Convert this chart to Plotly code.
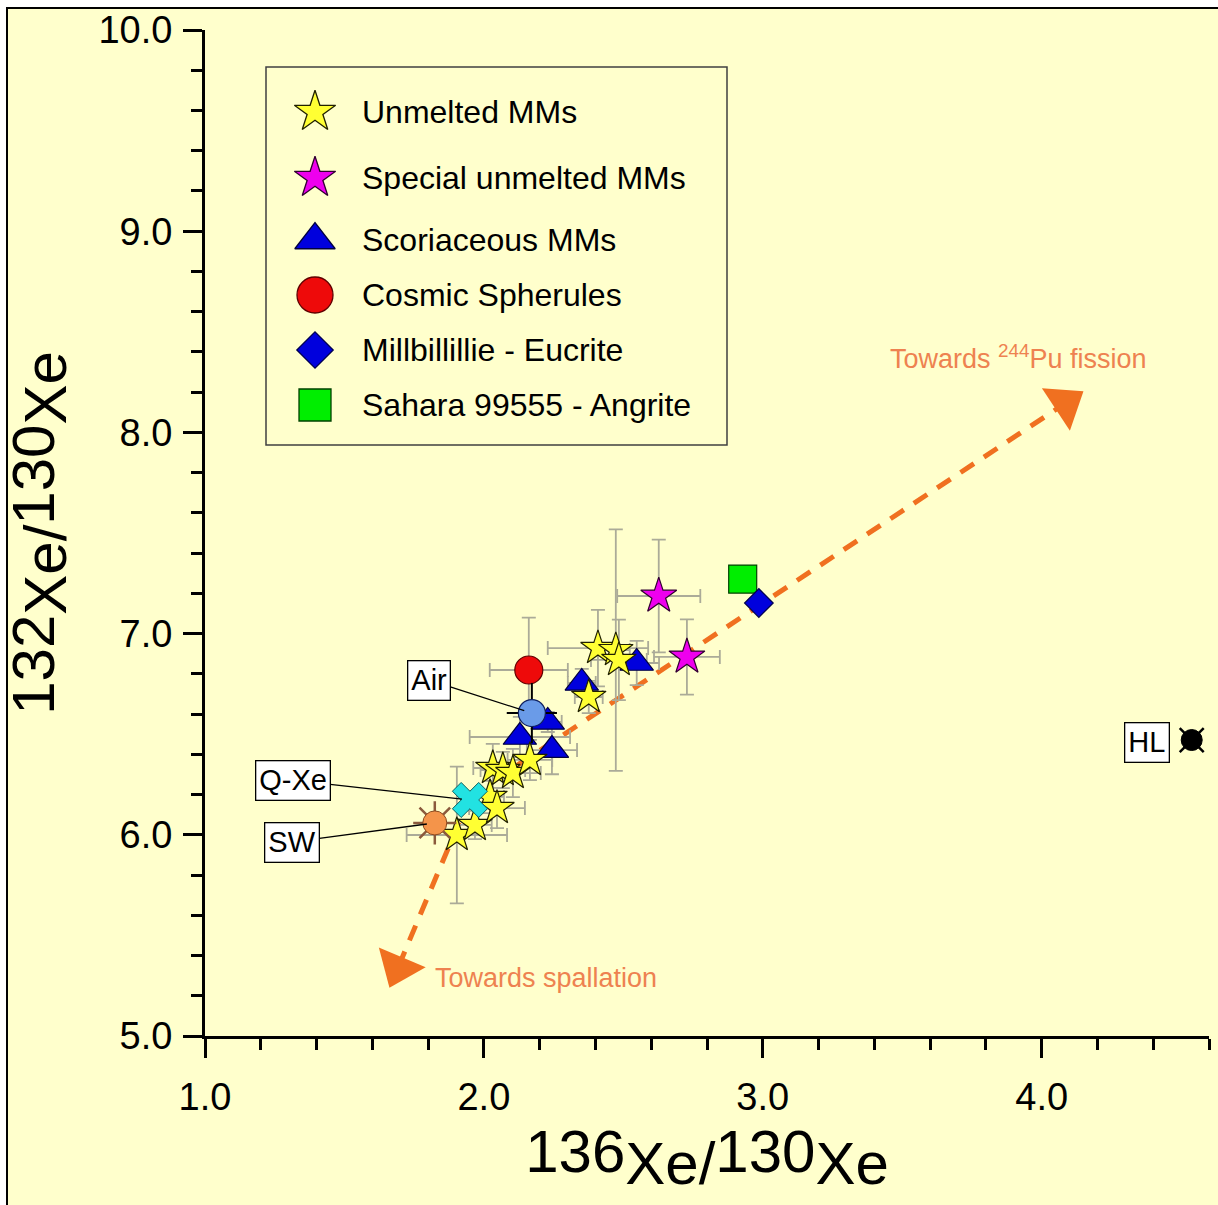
import plotly.graph_objects as go

# ---------------------------------------------------------------
# Xe isotope ratios (136Xe/130Xe, 132Xe/130Xe) with 1-sigma errors
# ---------------------------------------------------------------
unmelted_x = [1.903, 1.968, 2.022, 2.047, 2.032, 2.068, 2.104, 2.165, 2.376, 2.409, 2.473, 2.484]
unmelted_y = [5.999, 6.049, 6.188, 6.133, 6.332, 6.322, 6.307, 6.372, 6.685, 6.928, 6.918, 6.869]
unmelted_ex = [0.18, 0.06, 0.05, 0.10, 0.07, 0.08, 0.10, 0.08, 0.05, 0.18, 0.05, 0.10]
unmelted_ey = [0.34, 0.07, 0.08, 0.10, 0.12, 0.09, 0.12, 0.10, 0.08, 0.19, 0.60, 0.20]

special_x = [2.627, 2.728]
special_y = [7.187, 6.884]
special_ex = [0.149, 0.118]
special_ey = [0.28, 0.187]

scoriaceous_x = [2.129, 2.229, 2.244, 2.351, 2.548]
scoriaceous_y = [6.486, 6.561, 6.421, 6.755, 6.854]
scoriaceous_ex = [0.18, 0.05, 0.09, 0.05, 0.08]
scoriaceous_ey = [0.10, 0.05, 0.12, 0.07, 0.11]

cosmic_x = [2.161]
cosmic_y = [6.819]
cosmic_ex = [0.14]
cosmic_ey = [0.26]

millbillillie_x = [2.986]
millbillillie_y = [7.152]

sahara_x = [2.928]
sahara_y = [7.271]

# reference Xe components
component_names = ["Air", "Q-Xe", "SW", "HL"]
component_x = [2.172, 1.950, 1.824, 4.538]
component_y = [6.605, 6.173, 6.059, 6.471]
air_ex = [0.09]
air_ey = [0.15]

# mixing directions from the trapped component towards fission / spallation
trend_origin = (1.950, 6.190)
trend_fission_end = (4.084, 8.144)
trend_spallation_end = (1.692, 5.340)

legend_labels = ["Unmelted MMs", "Special unmelted MMs", "Scoriaceous MMs",
                 "Cosmic Spherules", "Millbillillie - Eucrite", "Sahara 99555 - Angrite"]

# ---------------------------------------------------------------
# styling / layout constants
# ---------------------------------------------------------------
FONT = "Arial, 'Liberation Sans', sans-serif"
BG = "#FFFFCC"
ORANGE = "#F07020"
TEXT_ORANGE = "#EE8250"
ERR_GREY = "#ABAB98"

W, H = 1218, 1205
M_L, M_R, M_T, M_B = 205, 9, 30, 169
X_RANGE = [1.0, 4.6]
Y_RANGE = [5.0, 10.0]
PLOT_W = W - M_L - M_R
PLOT_H = H - M_T - M_B
PX_PER_X = PLOT_W / (X_RANGE[1] - X_RANGE[0])
PX_PER_Y = PLOT_H / (Y_RANGE[1] - Y_RANGE[0])

STYLE = {
    "unmelted": dict(symbol="star", size=26, color="#FFFF33", line="#202000"),
    "special": dict(symbol="star", size=27, color="#EE00EE", line="#300030"),
    "scoriaceous": dict(symbol="triangle-up", size=29, color="#0000DD", line="#000040"),
    "cosmic": dict(symbol="circle", size=28, color="#EE0A0A", line="#600000"),
    "millbillillie": dict(symbol="diamond", size=22, color="#0000DD", line="#000050"),
    "sahara": dict(symbol="square", size=28, color="#00EE00", line="#004000"),
}
LEGEND_SIZES = [31, 31, 35, 36, 28, 32]
LEGEND_ORDER = ["unmelted", "special", "scoriaceous", "cosmic", "millbillillie", "sahara"]
ARROW_HEAD_SIZE = 44


def px_to_paper_x(px):
    return (px - M_L) / PLOT_W


def px_to_paper_y(py):
    return (H - M_B - py) / PLOT_H


def px_to_data_x(px):
    return X_RANGE[0] + (px - M_L) / PX_PER_X


def px_to_data_y(py):
    return Y_RANGE[0] + (H - M_B - py) / PX_PER_Y


fig = go.Figure()

# dashed trend lines, each ending in an arrow head that follows the line direction
for end in (trend_fission_end, trend_spallation_end):
    fig.add_trace(go.Scatter(
        x=[trend_origin[0], end[0]], y=[trend_origin[1], end[1]],
        mode="lines+markers", line=dict(color=ORANGE, width=5, dash="16px,12px"),
        marker=dict(symbol="triangle-up", size=[0, ARROW_HEAD_SIZE], color=ORANGE, opacity=1,
                    angleref="previous", line=dict(width=0)),
        hoverinfo="skip", showlegend=False, cliponaxis=False))


def error_trace(x, y, ex, ey, color=ERR_GREY, cap=7, thickness=1.8):
    return go.Scatter(
        x=x, y=y, mode="markers",
        marker=dict(size=1, color="rgba(0,0,0,0)"),
        error_x=dict(type="data", array=ex, color=color, thickness=thickness, width=cap),
        error_y=dict(type="data", array=ey, color=color, thickness=thickness, width=cap),
        hoverinfo="skip", showlegend=False, cliponaxis=False)


def marker_trace(x, y, style, name, size=None, line_w=1.2):
    return go.Scatter(
        x=x, y=y, mode="markers", name=name,
        marker=dict(symbol=style["symbol"], size=size or style["size"], color=style["color"],
                    line=dict(color=style["line"], width=line_w)),
        showlegend=False, cliponaxis=False)


# grey uncertainty bars behind all symbols
fig.add_trace(error_trace(scoriaceous_x, scoriaceous_y, scoriaceous_ex, scoriaceous_ey))
fig.add_trace(error_trace(unmelted_x, unmelted_y, unmelted_ex, unmelted_ey))
fig.add_trace(error_trace(special_x, special_y, special_ex, special_ey))
fig.add_trace(error_trace(cosmic_x, cosmic_y, cosmic_ex, cosmic_ey))

# sample groups
fig.add_trace(marker_trace(scoriaceous_x, scoriaceous_y, STYLE["scoriaceous"], legend_labels[2]))
fig.add_trace(marker_trace(unmelted_x, unmelted_y, STYLE["unmelted"], legend_labels[0]))
fig.add_trace(marker_trace(special_x, special_y, STYLE["special"], legend_labels[1]))
fig.add_trace(marker_trace(cosmic_x, cosmic_y, STYLE["cosmic"], legend_labels[3]))
fig.add_trace(marker_trace(sahara_x, sahara_y, STYLE["sahara"], legend_labels[5]))
fig.add_trace(marker_trace(millbillillie_x, millbillillie_y, STYLE["millbillillie"], legend_labels[4]))

# reference components
air_i, q_i, sw_i, hl_i = range(4)
# Air: black uncertainty bars + light blue disc
fig.add_trace(error_trace([component_x[air_i]], [component_y[air_i]], air_ex, air_ey,
                          color="black", cap=0, thickness=2))
fig.add_trace(go.Scatter(
    x=[component_x[air_i]], y=[component_y[air_i]], mode="markers",
    marker=dict(symbol="circle", size=27, color="#6A9BE8", line=dict(color="#102060", width=1.2)),
    hoverinfo="skip", showlegend=False, cliponaxis=False))
# Solar wind: rayed orange disc
fig.add_trace(go.Scatter(
    x=[component_x[sw_i]], y=[component_y[sw_i]], mode="markers",
    marker=dict(symbol="asterisk-open", size=36, color="#8B5A3C", line=dict(color="#8B5A3C", width=2.5)),
    hoverinfo="skip", showlegend=False, cliponaxis=False))
fig.add_trace(go.Scatter(
    x=[component_x[sw_i]], y=[component_y[sw_i]], mode="markers",
    marker=dict(symbol="circle", size=24, color="#F4944A", line=dict(color="#8B4A20", width=1)),
    hoverinfo="skip", showlegend=False, cliponaxis=False))
# Q-Xe: cyan cross
fig.add_trace(go.Scatter(
    x=[component_x[q_i]], y=[component_y[q_i]], mode="markers",
    marker=dict(symbol="x", size=31, color="#22E2E2", line=dict(color="#0A6060", width=1)),
    hoverinfo="skip", showlegend=False, cliponaxis=False))
# HL: black disc with diagonal rays
fig.add_trace(go.Scatter(
    x=[component_x[hl_i]], y=[component_y[hl_i]], mode="markers",
    marker=dict(symbol="x-thin-open", size=24, color="black", line=dict(color="black", width=2.5)),
    hoverinfo="skip", showlegend=False, cliponaxis=False))
fig.add_trace(go.Scatter(
    x=[component_x[hl_i]], y=[component_y[hl_i]], mode="markers",
    marker=dict(symbol="circle", size=21, color="black", line=dict(color="black", width=1)),
    hoverinfo="skip", showlegend=False, cliponaxis=False))

annotations = [
    dict(x=3.448, y=8.375, xref="x", yref="y", xanchor="left", yanchor="middle",
         text="Towards <sup>244</sup>Pu fission", showarrow=False,
         font=dict(family=FONT, size=27, color=TEXT_ORANGE)),
    dict(x=1.817, y=5.288, xref="x", yref="y", xanchor="left", yanchor="middle",
         text="Towards spallation", showarrow=False,
         font=dict(family=FONT, size=27, color=TEXT_ORANGE)),
]

# labelled call-outs for the reference components
label_boxes = {"Air": (1.803, 6.769), "Q-Xe": (1.315, 6.272), "SW": (1.312, 5.964)}
for i, name in enumerate(component_names):
    if name in label_boxes:
        bx, by = label_boxes[name]
        annotations.append(dict(
            x=component_x[i], y=component_y[i], xref="x", yref="y",
            ax=bx, ay=by, axref="x", ayref="y", text=name, showarrow=True,
            arrowhead=0, arrowwidth=1.3, arrowcolor="black", standoff=8,
            bgcolor="white", bordercolor="black", borderwidth=1.3, borderpad=3,
            font=dict(family=FONT, size=29, color="black")))
    else:
        annotations.append(dict(
            x=4.376, y=6.461, xref="x", yref="y", text=name, showarrow=False,
            bgcolor="white", bordercolor="black", borderwidth=1.3, borderpad=3,
            font=dict(family=FONT, size=29, color="black")))

# legend panel (pixel layout converted onto the main axes)
LEG_BOX = (266, 67, 727, 445)  # left, top, right, bottom (px)
LEG_ROWS = [112, 178, 240, 295, 350, 405]
LEG_SYMBOL_PX = 315
LEG_TEXT_PX = 360
for key, label, row, size in zip(LEGEND_ORDER, legend_labels, LEG_ROWS, LEGEND_SIZES):
    fig.add_trace(marker_trace([px_to_data_x(LEG_SYMBOL_PX)], [px_to_data_y(row)], STYLE[key],
                               label, size=size, line_w=1.3))
    annotations.append(dict(
        x=px_to_paper_x(LEG_TEXT_PX), y=px_to_paper_y(row), xref="paper", yref="paper",
        xanchor="left", yanchor="middle",
        text=label, showarrow=False, font=dict(family=FONT, size=32, color="black")))

shapes = [
    # yellow page panel with black frame
    dict(type="rect", xref="paper", yref="paper", layer="below",
         x0=px_to_paper_x(7), x1=px_to_paper_x(W + 10),
         y0=px_to_paper_y(H + 10), y1=px_to_paper_y(8),
         fillcolor=BG, line=dict(color="black", width=2)),
    # legend frame
    dict(type="rect", xref="paper", yref="paper",
         x0=px_to_paper_x(LEG_BOX[0]), x1=px_to_paper_x(LEG_BOX[2]),
         y0=px_to_paper_y(LEG_BOX[3]), y1=px_to_paper_y(LEG_BOX[1]),
         line=dict(color="#404040", width=1.5), fillcolor="rgba(0,0,0,0)"),
]

axis_common = dict(
    showgrid=False, zeroline=False, showline=True, linecolor="black", linewidth=3,
    ticks="outside", tickwidth=3, tickcolor="black", ticklen=19,
    tickfont=dict(family=FONT, size=38, color="black"), tickformat=".1f",
    minor=dict(ticks="outside", ticklen=11, tickwidth=3, tickcolor="black", dtick=0.2, showgrid=False),
)

fig.update_layout(
    width=W, height=H,
    margin=dict(l=M_L, r=M_R, t=M_T, b=M_B, pad=0),
    paper_bgcolor="white", plot_bgcolor="rgba(0,0,0,0)",
    showlegend=False,
    font=dict(family=FONT, color="black"),
    xaxis=dict(range=X_RANGE, tick0=1.0, dtick=1.0, ticklabelstandoff=6,
               title=dict(text="<span style='baseline-shift:12px'>136</span>Xe/"
                                "<span style='baseline-shift:12px'>130</span>Xe",
                          font=dict(family=FONT, size=60, color="black"), standoff=24),
               **axis_common),
    yaxis=dict(range=Y_RANGE, tick0=5.0, dtick=1.0, ticklabelstandoff=3,
               title=dict(text="<span style='baseline-shift:12px'>132</span>Xe/"
                                "<span style='baseline-shift:12px'>130</span>Xe",
                          font=dict(family=FONT, size=60, color="black"), standoff=14),
               **axis_common),
    annotations=annotations,
    shapes=shapes,
)

fig.write_html("out.html")
